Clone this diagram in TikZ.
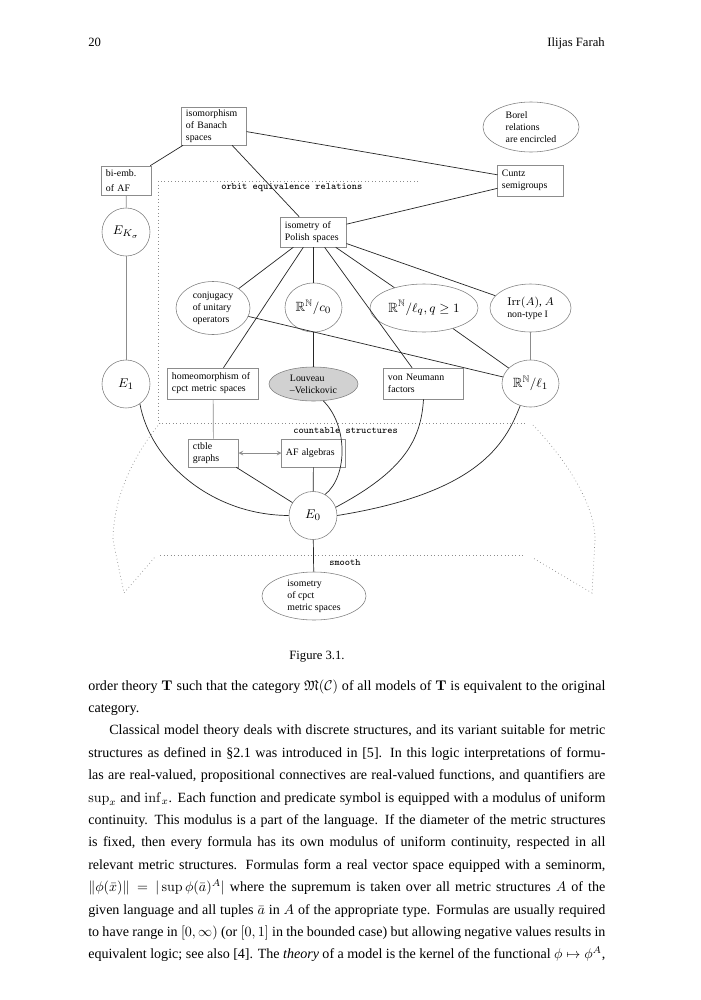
\documentclass[tikz,border=0pt]{standalone}
\usepackage{amsmath,amssymb}
\usepackage[no-math]{fontspec}
\setmainfont{Liberation Serif}
\usetikzlibrary{shapes.geometric}

\begin{document}
\begin{tikzpicture}[x=0.025cm, y=-0.025cm,
	box/.style={draw=black!45, rectangle, inner xsep=3pt, inner ysep=1pt, align=left, font=\fontsize{7}{8.5}\selectfont},
	blob/.style={draw=black!50, ellipse, inner sep=0pt, align=left, font=\fontsize{7}{8.5}\selectfont},
	bigmath/.style={font=\fontsize{9.5}{11}\selectfont},
	edge/.style={black!85, line width=0.5pt},
	link/.style={black!45, line width=0.5pt},
	zone/.style={black!45, dotted, line width=0.5pt},
	tag/.style={font=\fontsize{7}{8}\ttfamily, inner sep=0pt, anchor=west}]
	
	\fill[white] (0,0) rectangle (701,1000);
	\useasboundingbox (0,0) rectangle (701,1000);
	
	% running head
	\node (folio) [anchor=base west, inner sep=0pt, font=\fontsize{9}{11}\selectfont] at (88,46) {20};
	\node (runhead) [anchor=base east, inner sep=0pt, font=\fontsize{9}{11}\selectfont] at (605,46) {Ilijas Farah};
	
	% regions
	\draw[zone] (418,181) -- (158,181) -- (158,423) -- (527,423);
	\draw[zone] (160,423) .. controls (128,462) and (113,505) .. (113,540) -- (124,593) -- (155,557);
	\draw[zone] (533,425) .. controls (568,462) and (595,505) .. (595,540) -- (592,593) -- (533,558);
	\draw[zone] (160,555) -- (523,555);
	\node[tag] (orbit) at (221,188) {orbit equivalence relations};
	\node[tag] (countable) at (293,431) {countable structures};
	\node[tag] (smoothlbl) at (329,563) {smooth};
	
	% boxes
	\node[box, text width=1.4cm, minimum height=0.95cm] (banach) at (214,126) {isomorphism\\of Banach\\spaces};
	\node[box, text width=1.025cm, minimum height=0.725cm] (biemb) at (126.5,180.5) {bi-emb.\\[2pt]of AF};
	\node[box, text width=1.425cm, minimum height=0.775cm] (cuntz) at (530.5,180.5) {Cuntz\\semigroups};
	\node[box, text width=1.425cm, minimum height=0.75cm] (polish) at (313.5,232) {isometry of\\Polish spaces};
	\node[box, text width=2.05cm, minimum height=0.775cm] (homeo) at (213,383.5) {homeomorphism of\\cpct metric spaces};
	\node[box, text width=1.775cm, minimum height=0.775cm] (vonneumann) at (423.5,383.5) {von Neumann\\factors};
	\node[box, text width=1.025cm, minimum height=0.7cm] (ctble) at (213.5,453) {ctble\\graphs};
	\node[box, text width=1.375cm, minimum height=0.7cm] (afalg) at (313.5,453) {AF algebras};
	
	% ellipses
	\node[blob, minimum width=2.4cm, minimum height=1.25cm] (borel) at (531,127) {Borel\\relations\\are encircled};
	\node[blob, minimum width=1.85cm, minimum height=1.325cm] (conj) at (213,308) {conjugacy\\of unitary\\operators};
	\node[blob, bigmath, minimum width=1.425cm, minimum height=1.225cm] (c0) at (313.5,307.5) {$\mathbb{R}^{\mathbb{N}}/c_0$};
	\node[blob, bigmath, minimum width=2.7cm, minimum height=1.2cm] (lq) at (424,308) {$\mathbb{R}^{\mathbb{N}}/\ell_q, q\geq 1$};
	\node[blob, minimum width=2.025cm, minimum height=1.2cm] (irr) at (530.5,308) {{\fontsize{8}{9}\selectfont$\mathrm{Irr}(A)$, $A$}\\non-type I};
	\node[blob, fill=black!18, minimum width=2.225cm, minimum height=0.85cm] (louveau) at (313.5,384) {Louveau\\--Velickovic};
	\node[blob, minimum width=2.6cm, minimum height=1.2cm] (cpct) at (314,596) {isometry\\of cpct\\metric spaces};
	\node[blob, bigmath, minimum width=1.2cm, minimum height=1.2cm] (EK) at (126,232) {$E_{K_\sigma}$};
	\node[blob, bigmath, minimum width=1.2cm, minimum height=1.2cm] (E1) at (126,384) {$E_1$};
	\node[blob, bigmath, minimum width=1.425cm, minimum height=1.175cm] (l1) at (530.5,383.5) {$\mathbb{R}^{\mathbb{N}}/\ell_1$};
	\node[blob, bigmath, minimum width=1.2cm, minimum height=1.2cm] (E0) at (313,515.5) {$E_0$};
	
	% reductions
	\draw[edge] (banach) -- (biemb);
	\draw[edge] (banach) -- (cuntz);
	\draw[edge] (banach) -- (polish);
	\draw[link] (biemb) -- (EK);
	\draw[link] (EK) -- (E1);
	\draw[edge] (polish) -- (cuntz);
	\foreach \t in {conj,c0,lq,irr,homeo,vonneumann}
		\draw[edge] (polish) -- (\t);
	\draw[edge] (conj) -- (l1);
	\draw[edge] (lq) -- (l1);
	\draw[link] (irr) -- (l1);
	\draw[edge] (c0) -- (louveau);
	\draw[link] (homeo) -- (ctble);
	\draw[link, <->, >=stealth] (ctble) -- (afalg);
	\draw[edge] (ctble) -- (E0);
	\draw[edge] (afalg) -- (E0);
	\draw[edge] (louveau.-60) .. controls (348,425) and (348,476) .. (E0.60);
	\draw[edge] (vonneumann.south) .. controls (421,440) and (404,471) .. (E0.20);
	\draw[edge] (l1.-115) .. controls (505,445) and (477,493) .. (E0.east);
	\draw[edge] (E1.-55) .. controls (150,460) and (210,515) .. (E0.west);
	\draw[edge] (E0) -- (cpct);
	
	% caption and text
	\node (caption) [anchor=base, inner sep=0pt, font=\fontsize{9}{11}\selectfont] at (317,659) {Figure 3.1.};
	\node (body) [anchor=base west, inner sep=0pt, text width=12.925cm, align=justify, font=\fontsize{10}{15.94}\selectfont] at (88,690) {order theory $\mathbf{T}$ such that the category $\mathfrak{M}(\mathcal{C})$ of all models of $\mathbf{T}$ is equivalent to the original\linebreak
		category.\par
		\hspace*{0.525cm}Classical model theory deals with discrete structures, and its variant suitable for metric\linebreak
		structures as defined in §2.1 was introduced in [5]. In this logic interpretations of formu-\linebreak
		las are real-valued, propositional connectives are real-valued functions, and quantifiers are\linebreak
		$\sup_x$ and $\inf_x$. Each function and predicate symbol is equipped with a modulus of uniform\linebreak
		continuity. This modulus is a part of the language. If the diameter of the metric structures\linebreak
		is fixed, then every formula has its own modulus of uniform continuity, respected in all\linebreak
		relevant metric structures. Formulas form a real vector space equipped with a seminorm,\linebreak
		$\|\phi(\bar x)\| = |\sup\phi(\bar a)^A|$ where the supremum is taken over all metric structures $A$ of the\linebreak
		given language and all tuples $\bar a$ in $A$ of the appropriate type. Formulas are usually required\linebreak
		to have range in $[0,\infty)$ (or $[0,1]$ in the bounded case) but allowing negative values results in\linebreak
		equivalent logic; see also [4]. The \emph{theory} of a model is the kernel of the functional $\phi\mapsto\phi^A$,};
	
\end{tikzpicture}
\end{document}
